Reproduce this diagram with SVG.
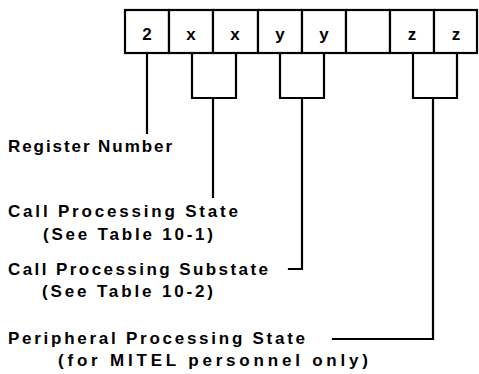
<svg xmlns="http://www.w3.org/2000/svg" width="479" height="374" viewBox="0 0 479 374">
<style>
.box{fill:#fff;stroke:#000;stroke-width:2.2}
.ln{fill:none;stroke:#000;stroke-width:2.2;stroke-linecap:square;stroke-linejoin:miter}
.cell{font-family:"Liberation Sans",Arial,sans-serif;font-weight:bold;font-size:17px;text-anchor:middle;fill:#000}
.lbl{font-family:"Liberation Sans",Arial,sans-serif;font-weight:bold;font-size:17px;fill:#000}
</style>
<rect width="479" height="374" fill="#fff"/>
<g id="register">
<rect class="box" x="125" y="10" width="44" height="43"/>
<rect class="box" x="169" y="10" width="44" height="43"/>
<rect class="box" x="213" y="10" width="45" height="43"/>
<rect class="box" x="258" y="10" width="44" height="43"/>
<rect class="box" x="302" y="10" width="44" height="43"/>
<rect class="box" x="346" y="10" width="44" height="43"/>
<rect class="box" x="390" y="10" width="44" height="43"/>
<rect class="box" x="434" y="10" width="43" height="43"/>
<text class="cell" x="147" y="40">2</text>
<text class="cell" x="191" y="40">x</text>
<text class="cell" x="235" y="40">x</text>
<text class="cell" x="280" y="40">y</text>
<text class="cell" x="324" y="40">y</text>
<text class="cell" x="412" y="40">z</text>
<text class="cell" x="456" y="40">z</text>
</g>
<g id="connectors">
<path class="ln" d="M147,53 V133"/>
<path class="ln" d="M192,53 V98 H236 V53 M213,98 V197"/>
<path class="ln" d="M280,53 V98 H324 V53 M302,98 V269 H289"/>
<path class="ln" d="M413,53 V98 H457 V53 M433,98 V339 H333"/>
</g>
<g id="label-register"><text class="lbl" x="8" y="152" textLength="164" lengthAdjust="spacing">Register Number</text></g>
<g id="label-cps">
<text class="lbl" x="8" y="217" textLength="230" lengthAdjust="spacing">Call Processing State</text>
<text class="lbl" x="43" y="240" textLength="170" lengthAdjust="spacing">(See Table 10-1)</text>
</g>
<g id="label-cpsub">
<text class="lbl" x="8" y="275" textLength="260" lengthAdjust="spacing">Call Processing Substate</text>
<text class="lbl" x="42" y="297" textLength="171" lengthAdjust="spacing">(See Table 10-2)</text>
</g>
<g id="label-pps">
<text class="lbl" x="8" y="344" textLength="297" lengthAdjust="spacing">Peripheral Processing State</text>
<text class="lbl" x="58" y="366" textLength="310" lengthAdjust="spacing">(for MITEL personnel only)</text>
</g>
</svg>
